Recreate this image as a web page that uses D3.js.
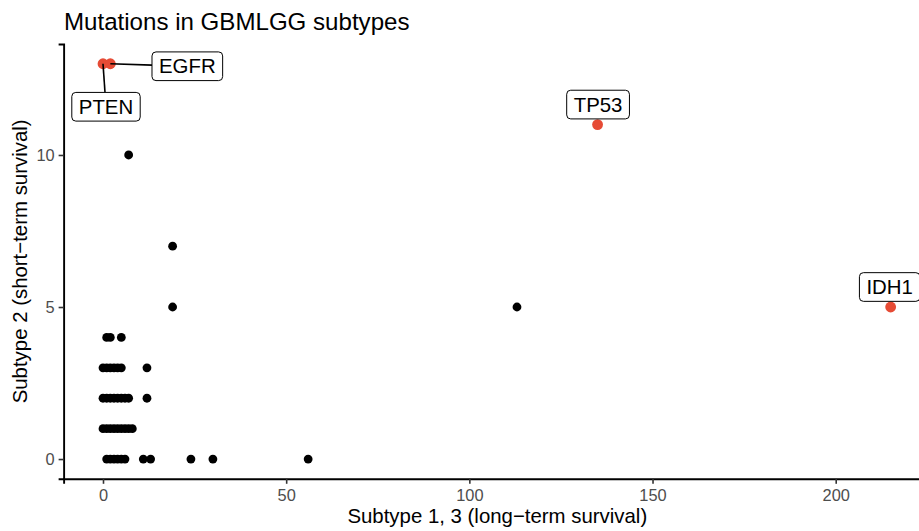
<!DOCTYPE html>
<html>
<head>
<meta charset="utf-8">
<script src="https://cdn.jsdelivr.net/npm/d3@7"></script>
<style>
  html, body { margin: 0; padding: 0; background: #fff; }
  svg { display: block; font-family: "Liberation Sans", Arial, Helvetica, sans-serif; }
</style>
</head>
<body>
<svg id="chart" width="919" height="531"></svg>
<script>
// Mutation counts per gene: x = subtype 1,3 (long-term), y = subtype 2 (short-term)
const genes = [
  "PTEN", "EGFR", "TP53", "IDH1",
  "g01", "g02", "g03", "g04",
  "g05", "g06", "g07",
  "g08", "g09", "g10", "g11", "g12", "g13", "g14",
  "g15", "g16", "g17", "g18", "g19", "g20", "g21", "g22", "g23",
  "g24", "g25", "g26", "g27", "g28", "g29", "g30", "g31", "g32",
  "g33", "g34", "g35", "g36", "g37", "g38", "g39", "g40", "g41", "g42", "g43"
];
const longTerm = [
  0, 2, 135, 215,
  7, 19, 19, 113,
  1, 2, 5,
  0, 1, 2, 3, 4, 5, 12,
  0, 1, 2, 3, 4, 5, 6, 7, 12,
  0, 1, 2, 3, 4, 5, 6, 7, 8,
  1, 2, 3, 4, 5, 6, 11, 13, 24, 30, 56
];
const shortTerm = [
  13, 13, 11, 5,
  10, 7, 5, 5,
  4, 4, 4,
  3, 3, 3, 3, 3, 3, 3,
  2, 2, 2, 2, 2, 2, 2, 2, 2,
  1, 1, 1, 1, 1, 1, 1, 1, 1,
  0, 0, 0, 0, 0, 0, 0, 0, 0, 0, 0
];
const highlighted = ["PTEN", "EGFR", "TP53", "IDH1"];

const xTicks = [0, 50, 100, 150, 200];
const yTicks = [0, 5, 10];

// Label box placement (pixel offset of box centre from its point)
const labelOffset = {
  PTEN: [3, 43],
  EGFR: [77, 2.5],
  TP53: [0.5, -20],
  IDH1: [-1, -20]
};

const points = genes.map((g, i) => ({ gene: g, x: longTerm[i], y: shortTerm[i], hit: highlighted.includes(g) }));

const svg = d3.select("#chart");
const RED = "#E64B35";

// Scales with 5% padding on each side of the data range
const xExt = [0, d3.max(longTerm)];
const xPad = (xExt[1] - xExt[0]) * 0.05;
const yExt = [0, d3.max(shortTerm)];
const yPad = (yExt[1] - yExt[0]) * 0.05;
const pxPerX = 3.6635;
const x0 = 103;
const x = d3.scaleLinear()
  .domain([xExt[0] - xPad, xExt[1] + xPad])
  .range([x0 - xPad * pxPerX, x0 + (xExt[1] + xPad) * pxPerX]);
const y = d3.scaleLinear()
  .domain([yExt[0] - yPad, yExt[1] + yPad])
  .range([478.8, 44.0]);

// Axes
const xAxis = svg.append("g")
  .attr("transform", `translate(0,${y.range()[0]})`)
  .call(d3.axisBottom(x).tickValues(xTicks).tickSizeOuter(0).tickSize(5).tickPadding(6));
const yAxis = svg.append("g")
  .attr("transform", `translate(${x.range()[0]},0)`)
  .call(d3.axisLeft(y).tickValues(yTicks).tickSizeOuter(0).tickSize(5).tickPadding(4));

[xAxis, yAxis].forEach(a => {
  a.select(".domain").attr("stroke", "#000").attr("stroke-width", 1.9);
  a.selectAll(".tick line").attr("stroke", "#333").attr("stroke-width", 1.6);
  a.selectAll(".tick text").attr("fill", "#4D4D4D").attr("font-size", 16.4)
    .attr("font-family", "Liberation Sans, Arial, sans-serif");
});

// Points: ordinary genes first, highlighted genes on top and a little larger
svg.append("g").selectAll("circle")
  .data(points.filter(d => !d.hit).concat(points.filter(d => d.hit)))
  .join("circle")
  .attr("cx", d => x(d.x))
  .attr("cy", d => y(d.y))
  .attr("r", d => d.hit ? 5.4 : 4.4)
  .attr("fill", d => d.hit ? RED : "#000");

// Gene labels with rounded boxes and leader segments
const labelG = svg.append("g");
const fontSize = 20.4;
const padX = 7, padY = 5.5;
points.filter(d => d.hit).forEach(d => {
  const px = x(d.x), py = y(d.y);
  const [dx, dy] = labelOffset[d.gene];
  const cx = px + dx, cy = py + dy;
  const txt = labelG.append("text")
    .attr("x", cx).attr("y", cy)
    .attr("text-anchor", "middle")
    .attr("dominant-baseline", "central")
    .attr("font-size", fontSize)
    .attr("fill", "#000")
    .text(d.gene);
  const w = txt.node().getComputedTextLength() + 2 * padX;
  const h = fontSize * 0.72 + 2 * padY + 3;
  const bx = cx - w / 2, by = cy - h / 2;
  // leader segment from point to nearest box edge
  const dist = Math.hypot(dx, dy);
  if (dist > 30) {
    const tx = dx !== 0 ? (w / 2) / Math.abs(dx) : Infinity;
    const ty = dy !== 0 ? (h / 2) / Math.abs(dy) : Infinity;
    const t = 1 - Math.min(tx, ty);
    labelG.insert("line", "text")
      .attr("x1", px).attr("y1", py)
      .attr("x2", px + dx * t).attr("y2", py + dy * t)
      .attr("stroke", "#000").attr("stroke-width", 1.6);
  }
  labelG.insert("rect", "text")
    .attr("x", bx).attr("y", by)
    .attr("width", w).attr("height", h)
    .attr("rx", 4).attr("ry", 4)
    .attr("fill", "#fff")
    .attr("stroke", "#000").attr("stroke-width", 1);
});

// Titles
svg.append("text")
  .attr("x", 64).attr("y", 30)
  .attr("font-size", 24.1).attr("fill", "#000")
  .text("Mutations in GBMLGG subtypes");
svg.append("text")
  .attr("x", (x.range()[0] + 919) / 2 + 6).attr("y", 523)
  .attr("text-anchor", "middle")
  .attr("font-size", 20.4).attr("fill", "#000")
  .text("Subtype 1, 3 (long\u2212term survival)");
svg.append("text")
  .attr("transform", `translate(27,${(y.range()[0] + y.range()[1]) / 2}) rotate(-90)`)
  .attr("text-anchor", "middle")
  .attr("font-size", 20.4).attr("fill", "#000")
  .text("Subtype 2 (short\u2212term survival)");
</script>
</body>
</html>
